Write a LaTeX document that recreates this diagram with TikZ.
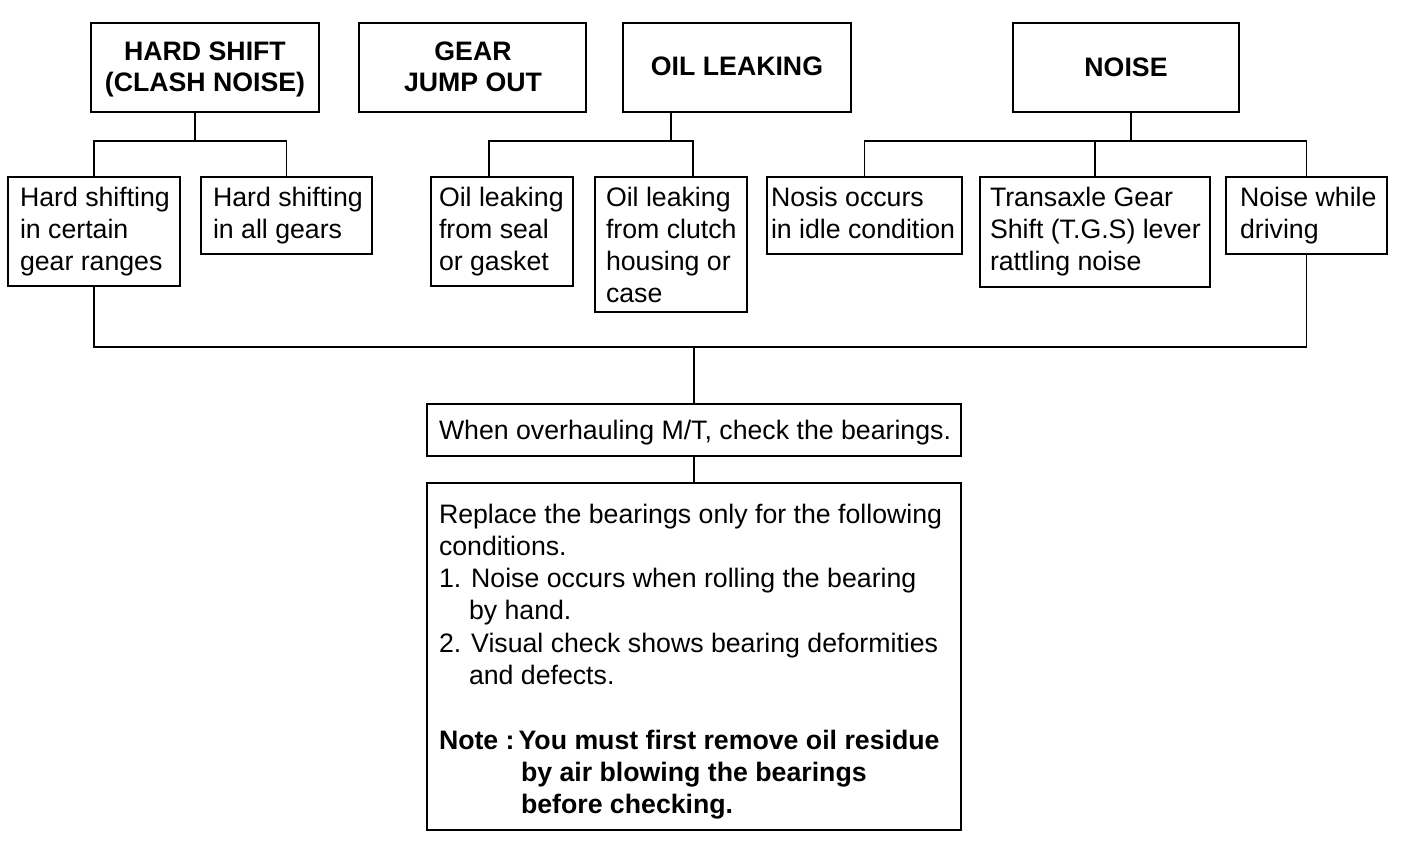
\documentclass[tikz,border=0pt]{standalone}
\usepackage{fontspec}
\setmainfont{Liberation Sans}
\begin{document}
\begin{tikzpicture}[x=1pt,y=-1pt,
  bx/.style={draw, line width=2pt, inner sep=0pt, outer sep=0pt, anchor=north west},
  ln/.style={line width=1.6pt},
  txt/.style={inner sep=0pt, outer sep=0pt, anchor=north west, align=left,
    font=\fontsize{26.7}{32.3}\selectfont},
  hd/.style={inner sep=0pt, outer sep=0pt, anchor=north, align=center,
    font=\fontsize{26.7}{31}\selectfont\bfseries}]
\useasboundingbox[fill=white] (0,0) rectangle (1408,856);
% header boxes
\node[bx, minimum width=228pt, minimum height=89pt] (hs) at (91,23) {};
\node[bx, minimum width=227pt, minimum height=89pt] (gj) at (359,23) {};
\node[bx, minimum width=228pt, minimum height=89pt] (ol) at (623,23) {};
\node[bx, minimum width=226pt, minimum height=89pt] (ns) at (1013,23) {};
% child boxes
\node[bx, minimum width=172pt, minimum height=109pt] (c1) at (8,177) {};
\node[bx, minimum width=171pt, minimum height=77pt] (c2) at (201,177) {};
\node[bx, minimum width=142pt, minimum height=109pt] (c3) at (431,177) {};
\node[bx, minimum width=152pt, minimum height=135pt] (c4) at (595,177) {};
\node[bx, minimum width=195pt, minimum height=77pt] (c5) at (767,177) {};
\node[bx, minimum width=230pt, minimum height=110pt] (c6) at (980,177) {};
\node[bx, minimum width=161pt, minimum height=77pt] (c7) at (1226,177) {};
% bottom boxes
\node[bx, minimum width=534pt, minimum height=52pt] (mt) at (427,404) {};
\node[bx, minimum width=534pt, minimum height=347pt] (rp) at (427,483) {};
% header texts
\node[hd] (hst) at (205,41) {\rule{0pt}{20pt}HARD SHIFT\\(CLASH NOISE)};
\node[hd] (gjt) at (473,41) {\rule{0pt}{20pt}GEAR\\JUMP OUT};
\node[hd] (olt) at (737,56) {\rule{0pt}{20pt}OIL LEAKING};
\node[hd] (nst) at (1126,57) {\rule{0pt}{20pt}NOISE};
% child texts
\node[txt] (c1t) at (20,186) {\rule{0pt}{20pt}Hard shifting\\in certain\\gear ranges};
\node[txt] (c2t) at (213,186) {\rule{0pt}{20pt}Hard shifting\\in all gears};
\node[txt] (c3t) at (439,186) {\rule{0pt}{20pt}Oil leaking\\from seal\\or gasket};
\node[txt] (c4t) at (606,186) {\rule{0pt}{20pt}Oil leaking\\from clutch\\housing or\\case};
\node[txt] (c5t) at (771,186) {\rule{0pt}{20pt}Nosis occurs\\in idle condition};
\node[txt] (c6t) at (990,186) {\rule{0pt}{20pt}Transaxle Gear\\Shift (T.G.S) lever\\rattling noise};
\node[txt] (c7t) at (1240,186) {\rule{0pt}{20pt}Noise while\\driving};
% bottom texts
\node[txt] (mtt) at (439,419) {\rule{0pt}{20pt}When overhauling M/T, check the bearings.};
\node[txt] (rpt) at (439,503) {\rule{0pt}{20pt}Replace the bearings only for the following\\
conditions.\\
1. Noise occurs when rolling the bearing\\
\hspace*{30pt}by hand.\\
2. Visual check shows bearing deformities\\
\hspace*{30pt}and defects.\\[32.3pt]
\bfseries Note :\hspace{4pt}You must first remove oil residue\\
\hspace*{82pt}\bfseries by air blowing the bearings\\
\hspace*{82pt}\bfseries before checking.};
% connector points
\coordinate (h1) at (195,141);
\coordinate (o1) at (671,141);
\coordinate (ol1) at (489,141);
\coordinate (or1) at (693,141);
\coordinate (n1) at (1131,141);
\coordinate (m1) at (694,347);
% connectors
\draw[ln] (hs.south -| h1) -- (h1);
\draw[ln] (c1.north) |- (h1) -| (c2.north);
\draw[ln] (ol.south -| o1) -- (o1);
\draw[ln] (c3.north -| ol1) |- (o1) -| (c4.north -| or1);
\draw[ln] (ns.south -| n1) -- (n1);
\draw[ln] (c5.north) |- (n1) -| (c7.north);
\draw[ln] (c6.north) -- (c6.north |- n1);
\draw[ln] (c1.south) |- (m1) -| (c7.south);
\draw[ln] (m1) -- (mt.north);
\draw[ln] (mt.south) -- (rp.north);
\end{tikzpicture}
\end{document}
